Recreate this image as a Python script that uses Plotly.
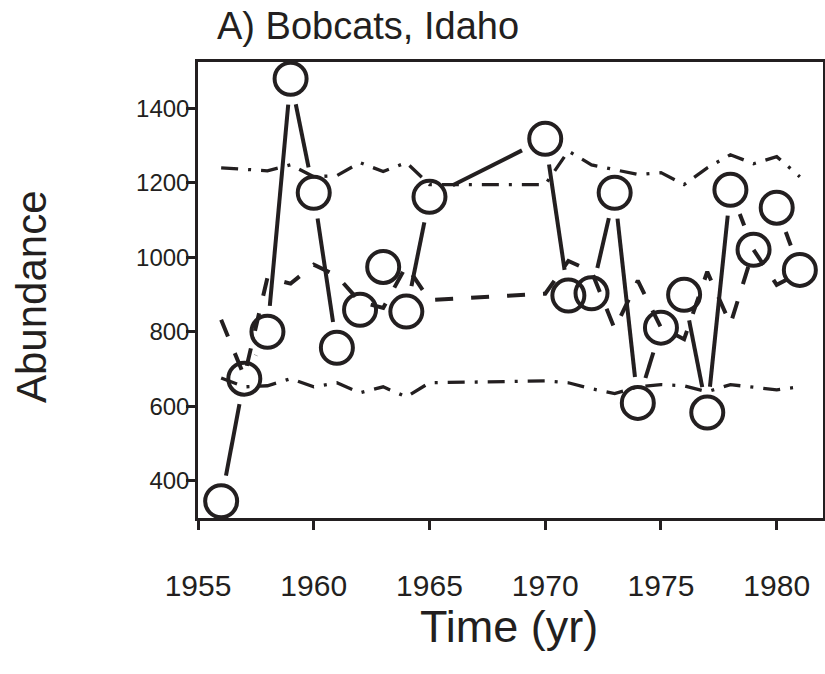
import math
import plotly.graph_objects as go

# ---- data ----
years = [1956, 1957, 1958, 1959, 1960, 1961, 1962, 1963, 1964, 1965,
         1970, 1971, 1972, 1973, 1974, 1975, 1976, 1977, 1978, 1979, 1980, 1981]
observed = [345, 674, 800, 1479, 1173, 757, 859, 974, 854, 1162,
            1318, 897, 903, 1173, 609, 811, 899, 583, 1181, 1020, 1133, 966]
predicted_mean = [832, 680, 945, 929, 980, 950, 880, 864, 977, 885,
                  902, 990, 962, 808, 937, 811, 780, 961, 820, 1020, 926, 958]
upper_bound = [1240, 1236, 1232, 1248, 1216, 1219, 1254, 1230, 1254, 1195,
               1195, 1285, 1248, 1235, 1222, 1227, 1195, 1240, 1275, 1251, 1270, 1216]
lower_bound = [676, 652, 655, 674, 652, 663, 636, 652, 625, 663,
               668, 663, 647, 634, 652, 658, 655, 639, 658, 650, 644, 652]

x_ticks = [1955, 1960, 1965, 1970, 1975, 1980]
y_ticks = [400, 600, 800, 1000, 1200, 1400]

title_text = "A) Bobcats, Idaho"
x_title = "Time (yr)"
y_title = "Abundance"

# ---- styling ----
INK = "#231f20"
FONT = "Liberation Sans, Arial, Helvetica, sans-serif"
W, H = 825, 674
PLOT_L, PLOT_R, PLOT_T, PLOT_B = 198, 823, 62, 518   # plot box in page pixels
PW, PH = PLOT_R - PLOT_L, PLOT_B - PLOT_T
ML, MT = PLOT_L, PLOT_T
MR = W - ML - PW
MB = H - MT - PH
X_RANGE = [1955, 1982]
Y_RANGE = [300, 1524]
GAP = 26  # pixel gap around points (R type="b" style)


def gapped_segments(xs, ys):
    sx = PW / (X_RANGE[1] - X_RANGE[0])
    sy = PH / (Y_RANGE[1] - Y_RANGE[0])
    ox, oy = [], []
    for i in range(len(xs) - 1):
        dx = (xs[i + 1] - xs[i]) * sx
        dy = (ys[i + 1] - ys[i]) * sy
        d = math.hypot(dx, dy)
        if d <= 2 * GAP:
            continue
        f = GAP / d
        ox += [xs[i] + (xs[i + 1] - xs[i]) * f, xs[i + 1] - (xs[i + 1] - xs[i]) * f, None]
        oy += [ys[i] + (ys[i + 1] - ys[i]) * f, ys[i + 1] - (ys[i + 1] - ys[i]) * f, None]
    return ox, oy


def px(page_x):
    return (page_x - PLOT_L) / PW


def py(page_y):
    return (PLOT_B - page_y) / PH


fig = go.Figure()

dotdash = "17px,10px,3px,10px"
fig.add_trace(go.Scatter(x=years, y=upper_bound, mode="lines",
                         line=dict(color=INK, width=3.3, dash=dotdash), hoverinfo="skip"))
fig.add_trace(go.Scatter(x=years, y=lower_bound, mode="lines",
                         line=dict(color=INK, width=3.3, dash=dotdash), hoverinfo="skip"))
fig.add_trace(go.Scatter(x=years, y=predicted_mean, mode="lines",
                         line=dict(color=INK, width=4, dash="18px,18px"), hoverinfo="skip"))

sx_, sy_ = gapped_segments(years, observed)
fig.add_trace(go.Scatter(x=sx_, y=sy_, mode="lines",
                         line=dict(color=INK, width=4), hoverinfo="skip"))
fig.add_trace(go.Scatter(x=years, y=observed, mode="markers",
                         marker=dict(symbol="circle-open", size=32, color=INK,
                                     line=dict(color=INK, width=4))))

axis_common = dict(
    showline=True, linecolor=INK, linewidth=2.5, mirror=True,
    ticks="outside", ticklen=9, tickwidth=2.5, tickcolor=INK,
    showgrid=False, zeroline=False, automargin=False,
)

fig.update_layout(
    width=W, height=H, autosize=False,
    margin=dict(l=ML, r=MR, t=MT, b=MB, autoexpand=False),
    paper_bgcolor="white", plot_bgcolor="white",
    showlegend=False,
    xaxis=dict(range=X_RANGE, tickvals=x_ticks, ticklabelstandoff=30,
               tickfont=dict(family=FONT, size=30, color=INK), **axis_common),
    yaxis=dict(range=Y_RANGE, tickvals=y_ticks, ticklabelstandoff=-8,
               tickfont=dict(family=FONT, size=24, color=INK), **axis_common),
    annotations=[
        dict(text=title_text, xref="paper", yref="paper",
             x=px(215), y=py(26), xanchor="left", yanchor="middle", showarrow=False,
             font=dict(family=FONT, size=38, color=INK)),
        dict(text=y_title, xref="paper", yref="paper",
             x=px(31), y=py(297), textangle=-90,
             xanchor="center", yanchor="middle", showarrow=False,
             font=dict(family=FONT, size=42, color=INK)),
        dict(text=x_title, xref="paper", yref="paper",
             x=px(509), y=py(626),
             xanchor="center", yanchor="middle", showarrow=False,
             font=dict(family=FONT, size=45, color=INK)),
    ],
)

fig.write_html(
    "out.html",
    config={"responsive": False, "displayModeBar": False},
    post_script="document.body.style.margin='0px';"
                "document.documentElement.style.overflow='hidden';",
)
